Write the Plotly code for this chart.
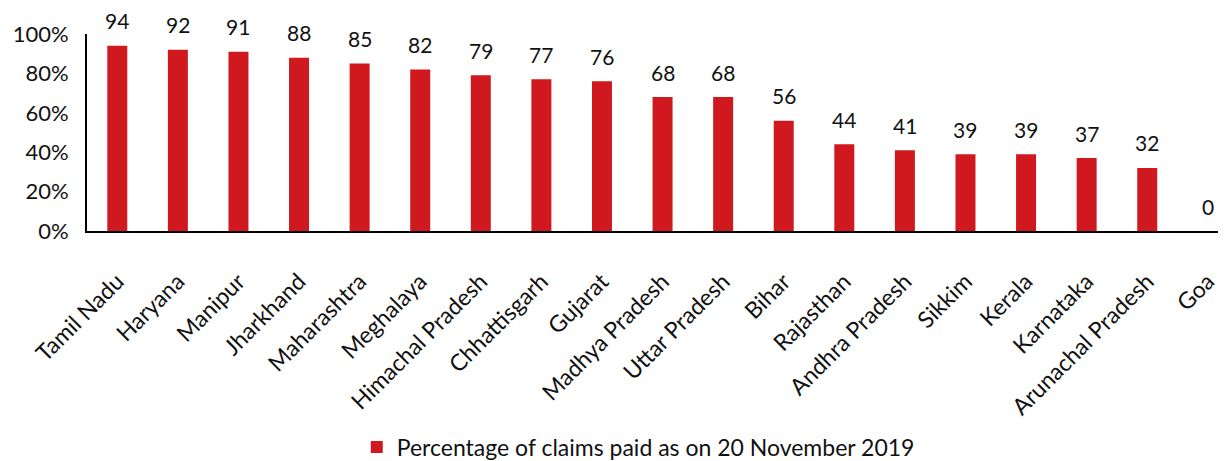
import plotly.graph_objects as go

states = ["Tamil Nadu", "Haryana", "Manipur", "Jharkhand", "Maharashtra", "Meghalaya",
          "Himachal Pradesh", "Chhattisgarh", "Gujarat", "Madhya Pradesh", "Uttar Pradesh",
          "Bihar", "Rajasthan", "Andhra Pradesh", "Sikkim", "Kerala", "Karnataka",
          "Arunachal Pradesh", "Goa"]
values = [94, 92, 91, 88, 85, 82, 79, 77, 76, 68, 68, 56, 44, 41, 39, 39, 37, 32, 0]
series_name = "Percentage of claims paid as on 20 November 2019"

font_family = "Lato, 'Open Sans', sans-serif"
fractions = [v / 100 for v in values]

fig = go.Figure()
fig.add_trace(go.Bar(
    x=states,
    y=fractions,
    name=series_name,
    marker=dict(color="#d0191f", line=dict(width=0)),
    width=0.33,
))

for s, v, f in zip(states, values, fractions):
    fig.add_annotation(x=s, y=f, text=str(v), showarrow=False, yanchor="middle",
                       yshift=25, font=dict(size=21, color="#111111", family=font_family))

# page has an 8px body margin; figure sized to fill the rest of the window
fig.update_layout(
    width=1218, height=453,
    margin=dict(l=79, r=0, t=26, b=230, autoexpand=False),
    paper_bgcolor="white", plot_bgcolor="white",
    font=dict(family=font_family, size=23, color="#111111"),
    showlegend=True,
    legend=dict(orientation="h", x=0.484, xanchor="center", y=-1.097, yanchor="middle",
                font=dict(size=23)),
    xaxis=dict(range=[-0.5, 18.3], tickangle=-45, showline=True, linecolor="black",
               linewidth=2, ticks="", showgrid=False, tickfont=dict(size=23),
               automargin=False, ticklabelstandoff=26),
    yaxis=dict(range=[0, 1], tickformat=".0%", dtick=0.2, showline=True, linecolor="black",
               linewidth=2, showgrid=False, zeroline=False, ticks="",
               tickfont=dict(size=22), automargin=False, ticklabelstandoff=12),
)

fig.write_html("out.html")
